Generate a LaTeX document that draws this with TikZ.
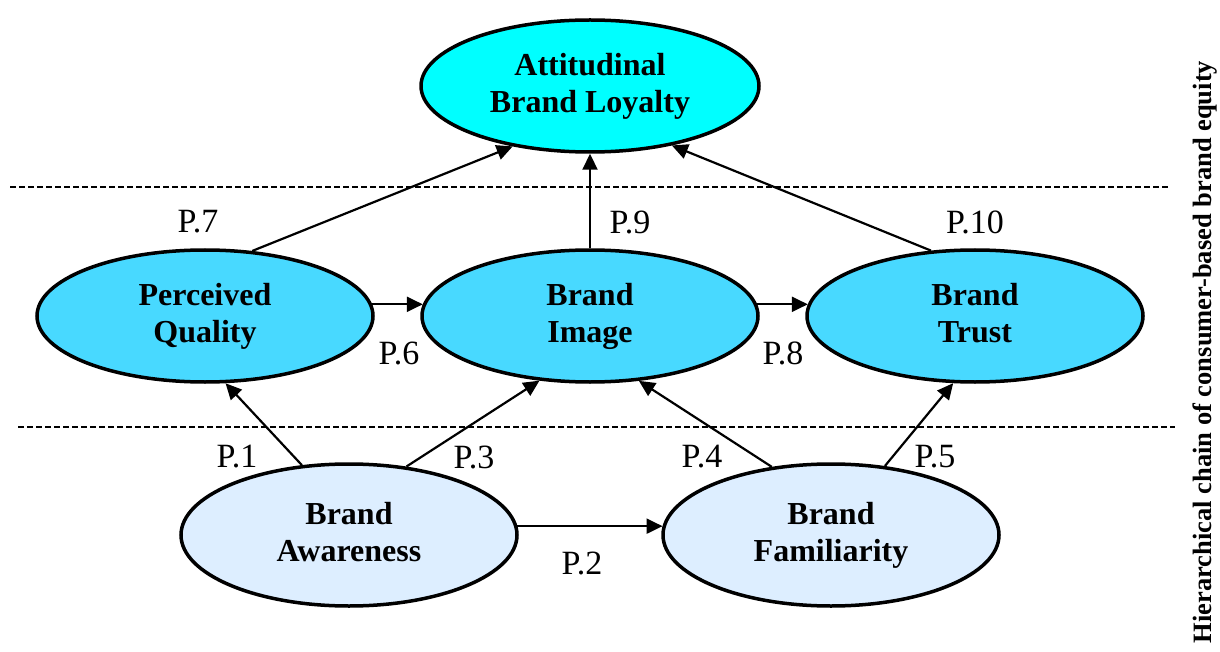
\documentclass[tikz,border=0pt]{standalone}
\usepackage{fontspec}
\setmainfont{Liberation Serif}
\usetikzlibrary{shapes.geometric,arrows.meta}
\definecolor{topc}{HTML}{00FFFF}
\definecolor{midc}{HTML}{48D9FF}
\definecolor{lowc}{HTML}{DDEEFF}
\tikzset{
  ell/.style={ellipse, draw=black, line width=3.5pt, inner sep=0pt, minimum width=336pt, minimum height=132pt, align=center, font=\fontsize{32}{37}\selectfont\bfseries},
  conn/.style={line width=2.2pt, -{Triangle[length=16pt,width=15pt]}},
  plab/.style={font=\fontsize{34}{36}\selectfont, inner sep=0pt},
  sep/.style={line width=1.5pt, dash pattern=on 6pt off 3pt}
}
\begin{document}
\begin{tikzpicture}[x=1pt,y=-1pt]
\useasboundingbox (0,0) rectangle (1220,652);
% dashed separators
\coordinate (d1a) at (10,187); \coordinate (d1b) at (1168,187);
\coordinate (d2a) at (18,427); \coordinate (d2b) at (1175,427);
\draw[sep] (d1a) -- (d1b);
\draw[sep] (d2a) -- (d2b);
% nodes
\node[ell, fill=topc, minimum width=338pt, minimum height=132pt] (abl) at (590,86) {Attitudinal\\Brand Loyalty};
\node[ell, fill=midc] (pq) at (205,316) {Perceived\\Quality};
\node[ell, fill=midc] (bi) at (590,316) {Brand\\Image};
\node[ell, fill=midc] (bt) at (975,316) {Brand\\Trust\vphantom{y}};
\node[ell, fill=lowc, minimum height=142pt] (ba) at (349,535) {Brand\\Awareness\vphantom{y}};
\node[ell, fill=lowc, minimum height=142pt] (bf) at (831,535) {Brand\\Familiarity};
% connectors
\draw[conn] (ba.124) -- (pq.287);
\draw[conn] (ba.50) -- (bi.232);
\draw[conn] (ba.3) -- (bf.177);
\draw[conn] (bf.131) -- (bi.307);
\draw[conn] (bf.52) -- (bt.252);
\draw[conn] (pq.4) -- (bi.176);
\draw[conn] (bi.4) -- (bt.176);
\draw[conn] (pq.54.5) -- (abl.218);
\draw[conn] (bi.90) -- (abl.270);
\draw[conn] (bt.124) -- (abl.324);
% labels
\node[plab] (l7) at (198,222) {P.7};
\node[plab] (l9) at (630,222) {P.9};
\node[plab] (l10) at (975,222) {P.10};
\node[plab] (l6) at (399,353) {P.6};
\node[plab] (l8) at (783,353) {P.8};
\node[plab] (l1) at (237,457) {P.1};
\node[plab] (l3) at (474,457) {P.3};
\node[plab] (l4) at (702,457) {P.4};
\node[plab] (l5) at (935,457) {P.5};
\node[plab] (l2) at (582,563) {P.2};
% side title
\node[rotate=90, font=\fontsize{26.5}{28}\selectfont\bfseries, inner sep=0pt] (title) at (1205,352) {Hierarchical chain of consumer-based brand equity};
\end{tikzpicture}
\end{document}
